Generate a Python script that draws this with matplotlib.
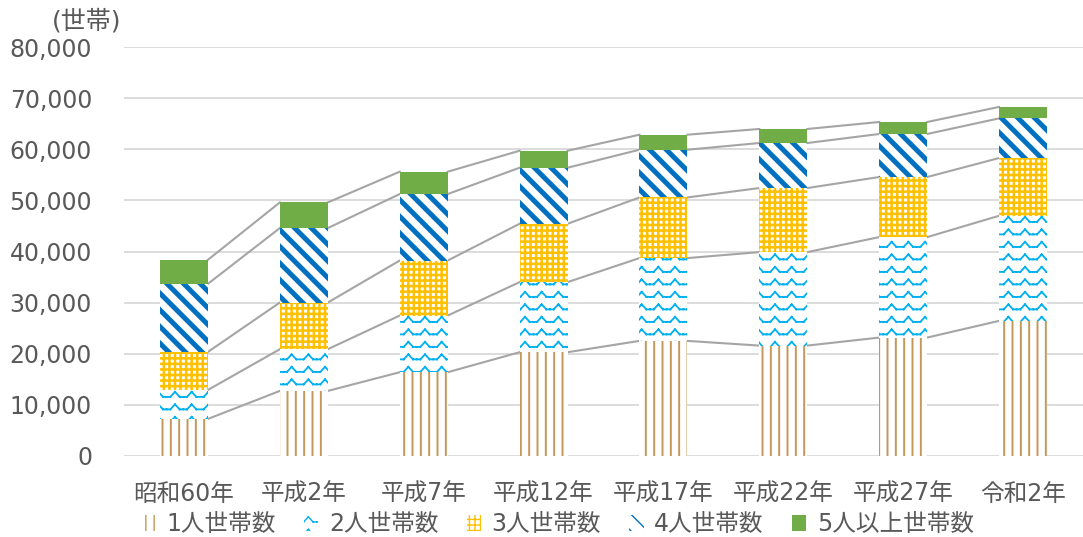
import numpy as np
import matplotlib
matplotlib.use('Agg')
import matplotlib.pyplot as plt
import matplotlib.hatch as mhatch
from matplotlib.path import Path

plt.rcParams['font.family'] = ['DejaVu Sans', 'Noto Sans CJK JP']

# データ（世帯数）
categories = ['昭和60年', '平成2年', '平成7年', '平成12年', '平成17年', '平成22年', '平成27年', '令和2年']
one_person = [7200, 12690, 16350, 20270, 22490, 21570, 23140, 26410]
two_person = [5680, 8170, 11100, 13730, 16220, 18310, 19680, 20590]
three_person = [7450, 9140, 10780, 11430, 11880, 12550, 11770, 11310]
four_person = [13340, 14590, 13020, 10980, 9350, 8820, 8430, 7770]
five_plus = [4700, 5020, 4380, 3330, 2940, 2750, 2350, 2240]
series_names = ['1人世帯数', '2人世帯数', '3人世帯数', '4人世帯数', '5人以上世帯数']
yticks = [0, 10000, 20000, 30000, 40000, 50000, 60000, 70000, 80000]


# 2人世帯用の波線ハッチ（'*' を置き換え）
# Aggはハッチを塗りつぶすので、線分ごとに分けて描く
class WaveHatch(mhatch.HatchPatternBase):
    shape = [(0.0, 0.0), (0.22, 0.0), (0.5, 1.0), (0.78, 0.0), (1.0, 0.0)]

    def __init__(self, hatch, density):
        n = hatch.count('*')
        self.num_rows = int(n * density * 1.35)
        self.num_cols = int(n * density)
        self.num_vertices = self.num_rows * self.num_cols * (len(self.shape) - 1) * 2

    def set_vertices_and_codes(self, vertices, codes):
        amp = 0.05
        k = 0
        for r in range(self.num_rows):
            y0 = (r + 0.25) / self.num_rows
            for c in range(self.num_cols):
                for (xa, ya), (xb, yb) in zip(self.shape[:-1], self.shape[1:]):
                    vertices[k] = ((c + xa) / self.num_cols, y0 + ya * amp)
                    vertices[k + 1] = ((c + xb) / self.num_cols, y0 + yb * amp)
                    codes[k] = Path.MOVETO
                    codes[k + 1] = Path.LINETO
                    k += 2


mhatch._hatch_types = [t for t in mhatch._hatch_types if t is not mhatch.Stars] + [WaveHatch]

styles = [
    dict(color='#C4975A', hatch='||', lw=1.4),
    dict(color='#00B0F0', hatch='*', lw=1.3),
    dict(color='#FFC000', hatch='+++', lw=1.8),
    dict(color='#0070C0', hatch='\\\\', lw=3.6),
    dict(color='#70AD47', hatch=None, lw=1.0),
]

fig = plt.figure(figsize=(10.83, 5.37), dpi=100)
ax = fig.add_axes([0.1145, 0.1514, 0.8855, 0.7605])

x = np.arange(len(categories))
width = 0.4
data = [one_person, two_person, three_person, four_person, five_plus]
bottom = np.zeros(len(categories))
tops = []
for vals, name, st in zip(data, series_names, styles):
    with plt.rc_context({'hatch.linewidth': st['lw']}):
        if st['hatch'] is None:
            bars = ax.bar(x, vals, width, bottom=bottom, color=st['color'],
                          linewidth=0, label=name, zorder=3)
        else:
            bars = ax.bar(x, vals, width, bottom=bottom, facecolor='white',
                          edgecolor=st['color'], hatch=st['hatch'],
                          linewidth=0, label=name, zorder=3)
    for b in bars:
        if hasattr(b, 'set_hatch_linewidth'):
            b.set_hatch_linewidth(st['lw'])
    bottom = bottom + np.array(vals)
    tops.append(bottom.copy())

# 系列線
for t in tops:
    for i in range(len(categories) - 1):
        ax.plot([x[i] + width / 2, x[i + 1] - width / 2], [t[i], t[i + 1]],
                color='#A5A5A5', lw=1.5, zorder=2)

ax.set_xlim(-0.5, len(categories) - 0.5)
ax.set_ylim(0, 80000)
ax.set_yticks(yticks)
ax.set_yticklabels([f'{v:,}' for v in yticks])
ax.set_xticks(x)
ax.set_xticklabels(categories)
ax.tick_params(axis='y', length=0, pad=23, labelsize=17, labelcolor='#595959')
ax.tick_params(axis='x', length=0, pad=19, labelsize=17, labelcolor='#595959')
ax.grid(axis='y', color='#D9D9D9', lw=1.3, zorder=0)
ax.set_axisbelow(True)
for s in ax.spines.values():
    s.set_visible(False)

fig.text(0.08, 0.96, '(世帯)', fontsize=18, color='#595959', ha='center', va='center')

fig.legend(loc='center', bbox_to_anchor=(0.515, 0.024), ncol=5, frameon=False,
           fontsize=17, labelcolor='#595959', handlelength=0.6, handleheight=0.65,
           handletextpad=0.45, columnspacing=1.2, borderpad=0)

fig.savefig('out.png', dpi=100)
